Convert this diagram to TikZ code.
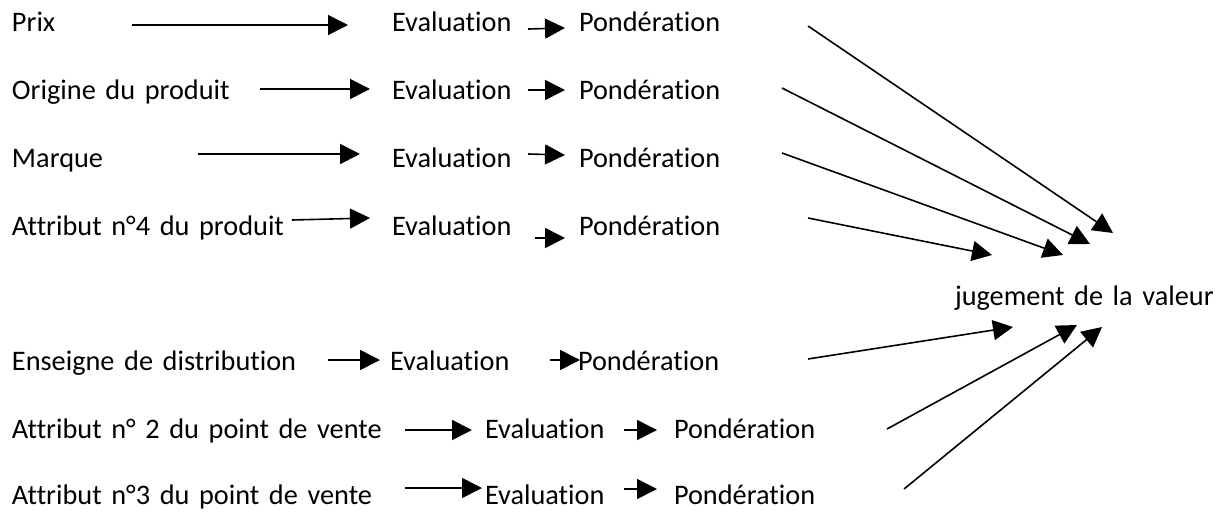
\documentclass[tikz,border=0pt]{standalone}
\usepackage{fontspec}
\setmainfont{Carlito}[Ligatures=NoCommon, WordSpace=1.5]
\usetikzlibrary{arrows.meta}
\tikzset{
  lbl/.style={anchor=base west, inner sep=0pt, outer sep=0pt, font=\fontsize{28.3}{34}\selectfont},
  arr/.style={line width=1.6pt, -{Triangle[length=20pt,width=20pt]}},
}
\begin{document}
\begin{tikzpicture}[x=1pt,y=-1pt]
\useasboundingbox[fill=white] (0,0) rectangle (1225,511);
% left labels
\node[lbl] (l1) at (12,32) {Prix};
\node[lbl] (l2) at (12,99) {Origine du produit};
\node[lbl] (l3) at (12,167) {Marque};
\node[lbl] (l4) at (12,235) {Attribut n°4 du produit};
\node[lbl] (l5) at (12,370) {Enseigne de distribution};
\node[lbl] (l6) at (12,438) {Attribut n° 2 du point de vente};
\node[lbl] (l7) at (12,504) {Attribut n°3 du point de vente};
% evaluation
\node[lbl] (e1) at (392,32) {Evaluation};
\node[lbl] (e2) at (392,99) {Evaluation};
\node[lbl] (e3) at (392,167) {Evaluation};
\node[lbl] (e4) at (392,235) {Evaluation};
\node[lbl] (e5) at (390,370) {Evaluation};
\node[lbl] (e6) at (485,438) {Evaluation};
\node[lbl] (e7) at (485,504) {Evaluation};
% ponderation
\node[lbl] (p1) at (579,32) {Pondération};
\node[lbl] (p2) at (579,99) {Pondération};
\node[lbl] (p3) at (579,167) {Pondération};
\node[lbl] (p4) at (579,235) {Pondération};
\node[lbl] (p5) at (578,370) {Pondération};
\node[lbl] (p6) at (674,438) {Pondération};
\node[lbl] (p7) at (674,504) {Pondération};
% result
\node[lbl] (j) at (955,305) {jugement de la valeur};
% coordinates: label -> evaluation arrows
\coordinate (a1s) at (132,25);  \coordinate (a1e) at (348,25);
\coordinate (a2s) at (260,89);  \coordinate (a2e) at (370,89);
\coordinate (a3s) at (198,154); \coordinate (a3e) at (360,154);
\coordinate (a4s) at (292,220); \coordinate (a4e) at (370,218);
\coordinate (a5s) at (328,360); \coordinate (a5e) at (380,360);
\coordinate (a6s) at (405,430); \coordinate (a6e) at (472,430);
\coordinate (a7s) at (405,488); \coordinate (a7e) at (482,488);
% evaluation -> ponderation arrows
\coordinate (b1s) at (528,29);  \coordinate (b1e) at (565,28);
\coordinate (b2s) at (528,90);  \coordinate (b2e) at (565,90);
\coordinate (b3s) at (528,154); \coordinate (b3e) at (565,155);
\coordinate (b4s) at (535,238); \coordinate (b4e) at (565,238);
\coordinate (b5s) at (550,360); \coordinate (b5e) at (580,360);
\coordinate (b6s) at (624,430); \coordinate (b6e) at (657,430);
\coordinate (b7s) at (624,489); \coordinate (b7e) at (657,489);
% ponderation -> jugement arrows
\coordinate (c1s) at (808,26);  \coordinate (c1e) at (1113,233);
\coordinate (c2s) at (782,88);  \coordinate (c2e) at (1090,244);
\coordinate (c3s) at (782,153); \coordinate (c3e) at (1063,255);
\coordinate (c4s) at (808,218); \coordinate (c4e) at (992,255);
\coordinate (c5s) at (808,359); \coordinate (c5e) at (1013,327);
\coordinate (c6s) at (887,429); \coordinate (c6e) at (1077,325);
\coordinate (c7s) at (904,489); \coordinate (c7e) at (1102,327);
\foreach \i in {1,...,7}{
  \draw[arr] (a\i s) -- (a\i e);
  \draw[arr] (b\i s) -- (b\i e);
  \draw[arr] (c\i s) -- (c\i e);
}
\end{tikzpicture}
\end{document}
